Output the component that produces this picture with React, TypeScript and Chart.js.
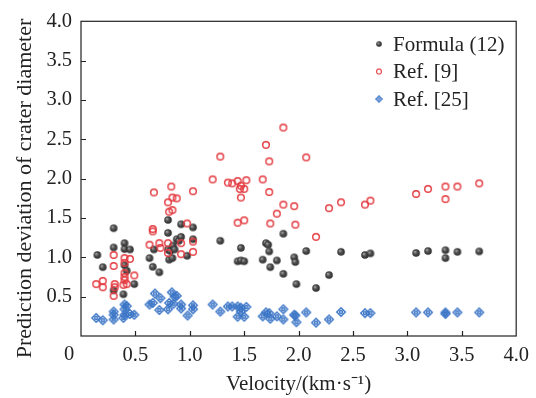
import React, { useEffect, useRef } from "react";
import { Chart, registerables } from "chart.js";
Chart.register(...registerables);

// ---- data ----
const seriesNames = ["Formula (12)", "Ref. [9]", "Ref. [25]"];
const xTitle = "Velocity/(km·s⁻¹)";
const yTitle = "Prediction deviation of crater diameter";
const xTicks = [0, 0.5, 1.0, 1.5, 2.0, 2.5, 3.0, 3.5, 4.0];
const yTicks = [0, 0.5, 1.0, 1.5, 2.0, 2.5, 3.0, 3.5, 4.0];

const formulaX = [0.15, 0.2, 0.3, 0.3, 0.3, 0.39, 0.4, 0.4, 0.45, 0.4, 0.42, 0.49, 0.63, 0.66, 0.67, 0.72, 0.8, 0.8, 0.8, 0.82, 0.845, 0.86, 0.81, 0.84, 0.88, 0.9, 0.92, 0.92, 0.975, 1.03, 1.03,
  1.28, 1.47, 1.44, 1.47, 1.5, 1.67, 1.7, 1.72, 1.73, 1.74, 1.8, 1.86, 1.86, 1.96, 1.97, 1.98, 2.07, 2.16, 2.28, 2.39,
  2.61, 2.66, 3.08, 3.19, 3.35, 3.35, 3.46, 3.66];
const formulaY = [1.03, 0.875, 1.37, 1.125, 0.58, 0.53, 1.18, 1.105, 1.1, 0.9, 0.83, 0.66, 0.99, 0.88, 1.1, 0.81, 1.475, 1.31, 1.1, 1.08, 1.15, 1.1, 0.97, 0.99, 1.23, 1.21, 1.26, 1.42, 1.02, 1.38, 1.23,
  1.21, 1.12, 0.95, 0.96, 0.95, 0.97, 1.18, 1.16, 1.075, 0.875, 0.96, 1.3, 0.79, 1.0, 0.94, 0.66, 1.08, 0.61, 0.775, 1.07,
  1.03, 1.05, 1.055, 1.08, 1.09, 0.99, 1.07, 1.075];

const ref9X = [0.14, 0.2, 0.2, 0.3, 0.3, 0.31, 0.31, 0.3, 0.4, 0.4, 0.45, 0.4, 0.4, 0.4, 0.39, 0.42, 0.49, 0.67, 0.66, 0.66, 0.63, 0.72, 0.73, 0.8, 0.81, 0.84, 0.83, 0.84, 0.88, 0.8, 0.8, 0.92, 0.92, 0.975, 1.03, 1.03, 1.03,
  1.21, 1.28, 1.35, 1.39, 1.44, 1.47, 1.46, 1.5, 1.52, 1.47, 1.44, 1.5, 1.67, 1.7, 1.73, 1.73, 1.74, 1.8, 1.86, 1.86, 1.96, 1.97, 2.07, 2.16, 2.28, 2.39,
  2.61, 2.66, 3.08, 3.19, 3.35, 3.35, 3.46, 3.66];
const ref9Y = [0.66, 0.7, 0.62, 1.03, 0.89, 0.66, 0.62, 0.51, 0.99, 0.93, 0.98, 0.8, 0.75, 0.71, 0.65, 0.66, 0.77, 1.825, 1.36, 1.33, 1.16, 1.18, 1.12, 1.7, 1.58, 1.6, 1.9, 1.76, 1.75, 1.18, 1.055, 1.18, 1.04, 1.43, 1.84, 1.2, 1.07,
  1.99, 2.28, 1.95, 1.94, 1.97, 1.91, 1.87, 1.87, 1.98, 1.76, 1.44, 1.47, 1.99, 2.43, 2.22, 1.83, 1.43, 1.555, 2.65, 1.67, 1.65, 1.415, 2.27, 1.26, 1.625, 1.7,
  1.67, 1.72, 1.805, 1.87, 1.9, 1.74, 1.9, 1.94];

const ref25X = [0.14, 0.2, 0.3, 0.3, 0.3, 0.4, 0.42, 0.4, 0.4, 0.39, 0.45, 0.49, 0.63, 0.66, 0.68, 0.72, 0.73, 0.8, 0.81, 0.835, 0.86, 0.88, 0.85, 0.92, 0.92, 0.98, 1.03, 1.03,
  1.21, 1.28, 1.35, 1.39, 1.44, 1.47, 1.47, 1.52, 1.44, 1.5, 1.67, 1.7, 1.73, 1.74, 1.8, 1.86, 1.86, 1.96, 1.97, 1.98, 2.07, 2.16, 2.28, 2.39,
  2.61, 2.66, 3.08, 3.19, 3.35, 3.35, 3.46, 3.66];
const ref25Y = [0.23, 0.2, 0.31, 0.27, 0.21, 0.4, 0.38, 0.34, 0.27, 0.23, 0.28, 0.27, 0.4, 0.42, 0.54, 0.33, 0.48, 0.34, 0.42, 0.555, 0.5, 0.51, 0.41, 0.4, 0.35, 0.26, 0.39, 0.34,
  0.4, 0.31, 0.375, 0.375, 0.375, 0.36, 0.31, 0.37, 0.245, 0.245, 0.25, 0.3, 0.29, 0.22, 0.25, 0.34, 0.21, 0.27, 0.26, 0.175, 0.3, 0.17, 0.21, 0.305,
  0.29, 0.29, 0.3, 0.3, 0.3, 0.28, 0.3, 0.3];

const SERIF = "'Liberation Serif', 'Times New Roman', serif";
const TEXT = "#222";

function makeMarker(kind: string): HTMLCanvasElement {
  const s = 12;
  const c = document.createElement("canvas");
  c.width = s;
  c.height = s;
  const ctx = c.getContext("2d")!;
  const m = s / 2;
  if (kind === "sphere") {
    const g = ctx.createRadialGradient(m - 1.3, m - 1.3, 0.2, m, m, 4);
    g.addColorStop(0, "#a8a8a8");
    g.addColorStop(0.45, "#4e4e4e");
    g.addColorStop(1, "#2b2b2b");
    ctx.fillStyle = g;
    ctx.beginPath();
    ctx.arc(m, m, 3.8, 0, Math.PI * 2);
    ctx.fill();
  } else if (kind === "ring") {
    ctx.strokeStyle = "#e3393f";
    ctx.lineWidth = 1.4;
    ctx.beginPath();
    ctx.arc(m, m, 3.3, 0, Math.PI * 2);
    ctx.stroke();
  } else {
    ctx.strokeStyle = "#3a74c6";
    ctx.lineWidth = 1.4;
    ctx.beginPath();
    ctx.moveTo(m, m - 4.3);
    ctx.lineTo(m + 4.3, m);
    ctx.lineTo(m, m + 4.3);
    ctx.lineTo(m - 4.3, m);
    ctx.closePath();
    ctx.stroke();
    ctx.beginPath();
    ctx.arc(m, m, 1.5, 0, Math.PI * 2);
    ctx.stroke();
  }
  return c;
}

export default function App() {
  const ref = useRef<HTMLCanvasElement | null>(null);
  useEffect(() => {
    if (!ref.current) return;
    const markers = [makeMarker("sphere"), makeMarker("ring"), makeMarker("diamond")];
    const toPts = (xs: number[], ys: number[]) => xs.map((x, i) => ({ x, y: ys[i] }));

    const decor = {
      id: "decor",
      afterDraw(chart: any) {
        const { ctx, chartArea } = chart;
        const { left, right, top, bottom } = chartArea;
        const xs = chart.scales.x;
        const ys = chart.scales.y;
        ctx.save();
        ctx.strokeStyle = "#222";
        ctx.lineWidth = 1.2;
        ctx.strokeRect(left, top, right - left, bottom - top);
        ctx.beginPath();
        for (const v of xTicks) {
          if (v <= 0 || v >= 4) continue;
          const px = Math.round(xs.getPixelForValue(v)) + 0.5;
          ctx.moveTo(px, bottom);
          ctx.lineTo(px, bottom - 5);
        }
        for (const v of yTicks) {
          if (v <= 0 || v >= 4) continue;
          const py = Math.round(ys.getPixelForValue(v)) + 0.5;
          ctx.moveTo(left, py);
          ctx.lineTo(left + 5, py);
        }
        ctx.stroke();

        // shared corner zero
        ctx.fillStyle = TEXT;
        ctx.font = `20.5px ${SERIF}`;
        ctx.textAlign = "center";
        ctx.textBaseline = "middle";
        ctx.fillText("0", xs.getPixelForValue(0) - 12, bottom + 19);

        // y title
        ctx.save();
        ctx.translate(30.5, 188.5);
        ctx.rotate(-Math.PI / 2);
        ctx.font = `22px ${SERIF}`;
        ctx.textAlign = "center";
        ctx.textBaseline = "alphabetic";
        ctx.fillText(yTitle, 0, 0);
        ctx.restore();

        // legend
        const lx = 379;
        const ly = [44, 71.5, 99];
        ctx.font = `21px ${SERIF}`;
        ctx.textAlign = "left";
        ctx.textBaseline = "middle";
        for (let i = 0; i < 3; i++) {
          const mk = markers[i];
          ctx.drawImage(mk, lx - 4.5, ly[i] - 4.5, 9, 9);
          ctx.fillText(seriesNames[i], 393, ly[i] + 1);
        }
        ctx.restore();
      },
    };

    const chart = new Chart(ref.current, {
      type: "scatter",
      data: {
        datasets: [
          { label: seriesNames[0], data: toPts(formulaX, formulaY), pointStyle: markers[0] as any, pointRadius: 4, order: 1 },
          { label: seriesNames[1], data: toPts(ref9X, ref9Y), pointStyle: markers[1] as any, pointRadius: 4, order: 0 },
          { label: seriesNames[2], data: toPts(ref25X, ref25Y), pointStyle: markers[2] as any, pointRadius: 4, order: 2 },
        ],
      },
      options: {
        animation: false,
        responsive: false,
        layout: { padding: { top: 19, right: 19, left: 0, bottom: 0 } },
        plugins: { legend: { display: false }, tooltip: { enabled: false } },
        scales: {
          x: {
            type: "linear",
            min: 0,
            max: 4,
            afterFit: (s: any) => { s.height = 62; },
            afterBuildTicks: (s: any) => { s.ticks = xTicks.map((v) => ({ value: v })); },
            grid: { display: false, drawTicks: false },
            border: { display: false },
            ticks: {
              padding: 7,
              color: TEXT,
              font: { family: SERIF, size: 20.5 },
              callback: (v: any) => (Number(v) === 0 ? "" : Number(v).toFixed(1)),
            },
            title: { display: true, text: xTitle, color: TEXT, font: { family: SERIF, size: 21 }, padding: { top: 0, bottom: 1 } },
          },
          y: {
            type: "linear",
            min: 0,
            max: 4,
            afterFit: (s: any) => { s.width = 81; },
            afterBuildTicks: (s: any) => { s.ticks = yTicks.map((v) => ({ value: v })); },
            grid: { display: false, drawTicks: false },
            border: { display: false },
            ticks: {
              padding: 9,
              color: TEXT,
              font: { family: SERIF, size: 20.5 },
              callback: (v: any) => (Number(v) === 0 ? "" : Number(v).toFixed(1)),
            },
          },
        },
      },
      plugins: [decor],
    } as any);
    return () => chart.destroy();
  }, []);

  return (
    <div style={{ position: "absolute", left: 0, top: 0, width: 536, height: 398, background: "#fff" }}>
      <canvas ref={ref} width={536} height={398} style={{ width: 536, height: 398, display: "block" }} />
    </div>
  );
}
